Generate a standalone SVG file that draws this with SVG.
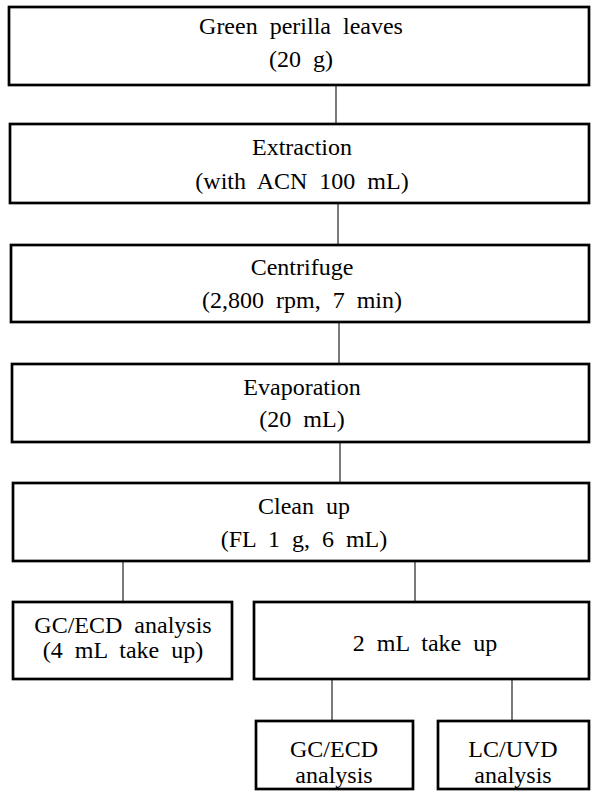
<svg xmlns="http://www.w3.org/2000/svg" width="591" height="791" viewBox="0 0 591 791">
<style>
.box{fill:#fff;stroke:#000;stroke-width:2.7}
.conn line{stroke:#222;stroke-width:1.2}
text{font-family:"Liberation Serif","Times New Roman",serif;font-size:24px;word-spacing:6px;fill:#000;text-anchor:middle}
</style>
<rect width="591" height="791" fill="#fff"/>
<g id="connectors" class="conn">
<line x1="336" y1="85" x2="336" y2="124"/>
<line x1="338" y1="203" x2="338" y2="245"/>
<line x1="339" y1="322" x2="339" y2="364"/>
<line x1="340" y1="442" x2="340" y2="483"/>
<line x1="123" y1="561" x2="123" y2="602"/>
<line x1="415" y1="561" x2="415" y2="602"/>
<line x1="332" y1="679" x2="332" y2="721"/>
<line x1="512" y1="679" x2="512" y2="721"/>
</g>
<g id="n1"><rect class="box" x="9" y="7" width="580" height="78"/><text x="301" y="34">Green perilla leaves</text><text x="301" y="67">(20 g)</text></g>
<g id="n2"><rect class="box" x="10" y="124" width="579" height="79"/><text x="302" y="155">Extraction</text><text x="302" y="189">(with ACN 100 mL)</text></g>
<g id="n3"><rect class="box" x="11" y="245" width="578" height="77"/><text x="302" y="275">Centrifuge</text><text x="302" y="308">(2,800 rpm, 7 min)</text></g>
<g id="n4"><rect class="box" x="12" y="364" width="577" height="78"/><text x="302" y="395">Evaporation</text><text x="302" y="427">(20 mL)</text></g>
<g id="n5"><rect class="box" x="13" y="483" width="576" height="78"/><text x="304" y="514">Clean up</text><text x="304" y="547">(FL 1 g, 6 mL)</text></g>
<g id="n6"><rect class="box" x="13" y="602" width="219" height="77"/><text x="123" y="633">GC/ECD analysis</text><text x="123" y="658">(4 mL take up)</text></g>
<g id="n7"><rect class="box" x="254" y="602" width="335" height="77"/><text x="425" y="651">2 mL take up</text></g>
<g id="n8"><rect class="box" x="256" y="721" width="157" height="68"/><text x="334" y="757">GC/ECD</text><text x="334" y="783">analysis</text></g>
<g id="n9"><rect class="box" x="438" y="721" width="151" height="68"/><text x="513" y="757">LC/UVD</text><text x="513" y="783">analysis</text></g>
</svg>
